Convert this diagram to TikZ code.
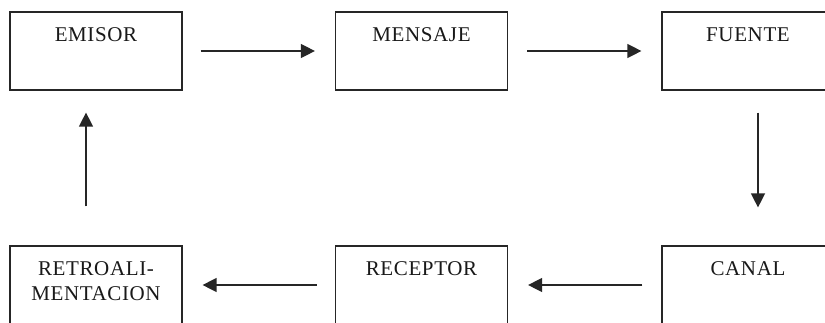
\documentclass[tikz,border=0pt]{standalone}
\usepackage{fontspec}
\setmainfont{Liberation Serif}
\newfontfamily\boxfont[LetterSpace=3]{Liberation Serif}
\usetikzlibrary{arrows.meta}
\begin{document}
\begin{tikzpicture}[x=1pt,y=-1pt,
  box/.style={draw=black!85, line width=1.2pt, minimum width=172pt, minimum height=78pt, inner sep=0pt},
  txt/.style={anchor=north, inner sep=0pt, align=center, font=\boxfont\fontsize{21}{25}\selectfont, text=black!90},
  conn/.style={draw=black!85, line width=1.3pt, -{Triangle[length=14pt,width=14pt]}}]
\clip (0,0) rectangle (825,322);
\fill[white] (0,0) rectangle (825,322);
% top row
\node[box] (emisor) at (96,51) {};
\node[box] (mensaje) at (421.5,51) {};
\node[box] (fuente) at (748,51) {};
% bottom row
\node[box] (retro) at (96,285) {};
\node[box] (receptor) at (421.5,285) {};
\node[box] (canal) at (748,285) {};
% texts
\node[txt] (temisor) at ([yshift=-16pt]emisor.north) {EMISOR};
\node[txt] (tmensaje) at ([yshift=-16pt]mensaje.north) {MENSAJE};
\node[txt] (tfuente) at ([yshift=-16pt]fuente.north) {FUENTE};
\node[txt] (tretro) at ([yshift=-16pt]retro.north) {RETROALI-\\MENTACION};
\node[txt] (treceptor) at ([yshift=-16pt]receptor.north) {RECEPTOR};
\node[txt] (tcanal) at ([yshift=-16pt]canal.north) {CANAL};
% connectors
\draw[conn, shorten <=18pt, shorten >=20pt] (emisor.east) -- (mensaje.west);
\draw[conn, shorten <=19pt, shorten >=20pt] (mensaje.east) -- (fuente.west);
\draw[conn, shorten <=22pt, shorten >=38pt] ([xshift=10pt]fuente.south) -- ([xshift=10pt]canal.north);
\draw[conn, shorten <=19pt, shorten >=20pt] (canal.west) -- (receptor.east);
\draw[conn, shorten <=18pt, shorten >=20pt] (receptor.west) -- (retro.east);
\draw[conn, shorten <=39pt, shorten >=22pt] ([xshift=-10pt]retro.north) -- ([xshift=-10pt]emisor.south);
\end{tikzpicture}
\end{document}
